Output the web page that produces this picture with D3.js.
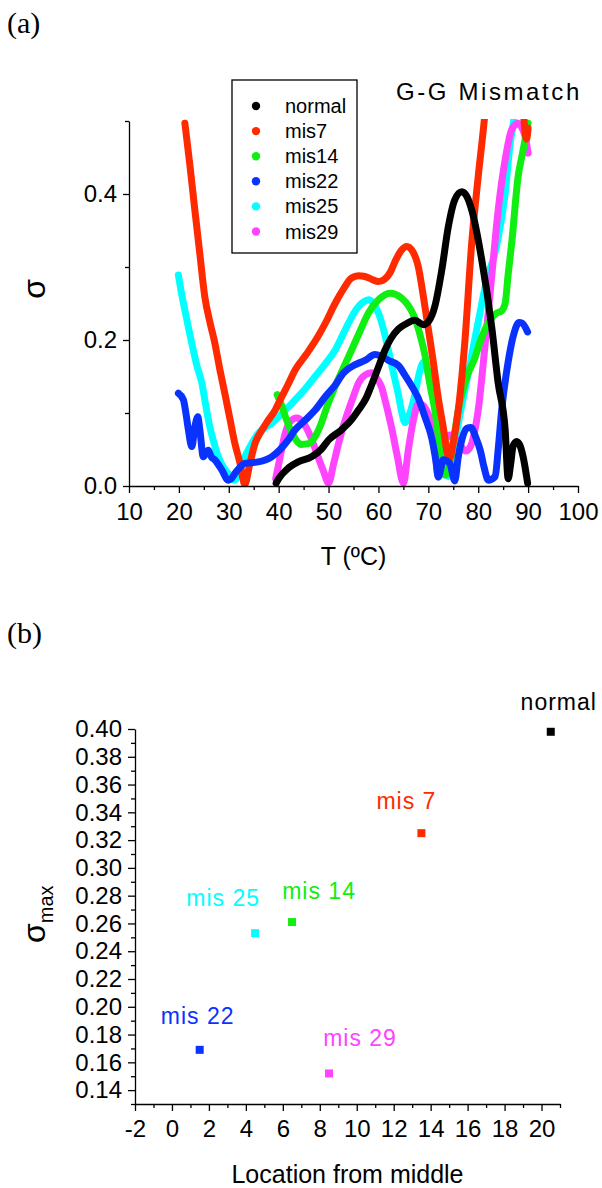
<!DOCTYPE html>
<html lang="en">
<head>
<meta charset="UTF-8">
<title>G-G Mismatch</title>
<script src="https://d3js.org/d3.v7.min.js"></script>
<style>
  body { margin: 0; background: #fff; }
  svg { display: block; font-family: "Liberation Sans", Arial, sans-serif; }
</style>
</head>
<body>
<div id="chart"></div>
<script>
// ---- panel (a): sigma vs temperature, pairs of [T, sigma]
const normal = [[39.5,0.004],[40,0.01],[42,0.025],[43.9,0.033],[46.6,0.04],[48.5,0.05],[50,0.063],[52.6,0.077],
  [54.5,0.09],[56,0.104],[57.5,0.12],[58.6,0.138],[60,0.163],[61.3,0.186],[62.5,0.202],[64,0.215],[65.5,0.222],
  [67.3,0.227],[69,0.221],[70,0.225],[71.3,0.246],[72.7,0.296],[74,0.355],[75.3,0.392],[76.7,0.403],[77.7,0.397],
  [78.7,0.378],[80.7,0.31],[82.7,0.218],[84,0.141],[85.4,0.077],[86,0.01],[86.5,0.03],[87,0.055],[87.7,0.061],
  [88.4,0.055],[89,0.04],[89.9,0.004]];
const mis7 = [[21.2,0.497],[22.2,0.44],[23.2,0.378],[24.2,0.318],[25.2,0.259],[26.2,0.225],[27.2,0.196],[28.2,0.16],
  [29.2,0.127],[30.2,0.093],[31.2,0.059],[32.3,0.03],[33.2,0.002],[34.2,0.03],[35.3,0.059],[36.5,0.075],[37.9,0.09],
  [39.3,0.104],[40.3,0.118],[41.8,0.138],[43.3,0.159],[45.5,0.18],[47.9,0.205],[49.5,0.225],[51.3,0.25],[53,0.27],
  [54.6,0.285],[56,0.288],[57.3,0.287],[58.7,0.283],[60,0.28],[61.2,0.283],[62.3,0.292],[63.5,0.31],[64.5,0.322],
  [65.7,0.328],[66.8,0.322],[68,0.3],[69,0.26],[70,0.215],[71,0.17],[72,0.12],[73,0.08],[73.8,0.045],[74.3,0.038],
  [75,0.06],[76,0.104],[77.3,0.196],[78.7,0.333],[80,0.424],[81.2,0.5],[82.5,0.6],[86,0.7],[88.8,0.55],[89.3,0.49],
  [89.7,0.475],[90,0.49]];
const mis14 = [[39.7,0.125],[40.5,0.112],[41.5,0.092],[42.5,0.075],[43.5,0.063],[44.5,0.057],[46,0.058],[47.5,0.07],
  [48.5,0.085],[49.5,0.105],[51.3,0.136],[53,0.162],[54.6,0.186],[56.3,0.212],[58,0.237],[60,0.255],[62.3,0.264],
  [64.7,0.257],[66,0.247],[67.3,0.23],[68.3,0.208],[69.3,0.18],[70.3,0.14],[71.3,0.104],[72.3,0.055],[73.3,0.015],
  [74,0.02],[75,0.06],[76,0.104],[77.5,0.145],[79.4,0.177],[80.5,0.2],[82,0.223],[83.7,0.237],[84.7,0.24],
  [85.4,0.25],[86,0.29],[86.7,0.332],[88,0.424],[89,0.46],[90,0.497]];
const mis22 = [[19.9,0.127],[20.9,0.118],[21.4,0.1],[21.9,0.077],[22.6,0.054],[23.2,0.081],[23.8,0.095],[24.2,0.077],
  [24.9,0.04],[25.9,0.049],[26.5,0.04],[27.2,0.036],[28.6,0.022],[29.9,0.008],[30.5,0.01],[31.2,0.017],[32.2,0.025],
  [33.2,0.031],[35.9,0.033],[38.6,0.04],[40.3,0.05],[41.8,0.062],[43.3,0.077],[45.3,0.09],[47.3,0.104],[49.3,0.122],
  [51.3,0.138],[53,0.155],[55,0.165],[57.3,0.172],[59.3,0.18],[60.5,0.178],[62,0.172],[64,0.165],[65.3,0.152],
  [67,0.133],[68,0.12],[69.3,0.095],[70.7,0.065],[71.5,0.035],[72,0.012],[73,0.036],[74.3,0.031],[75.3,0.007],
  [76,0.04],[76.7,0.063],[77.7,0.079],[78.5,0.08],[79.6,0.065],[80.4,0.049],[81.2,0.025],[82,0.008],[83.4,0.013],
  [84,0.05],[84.7,0.104],[86,0.17],[87.2,0.21],[88.2,0.224],[88.8,0.223],[89.9,0.211]];
const mis25 = [[19.9,0.289],[20.5,0.265],[21.2,0.241],[22.6,0.195],[23.6,0.165],[24.6,0.141],[25.4,0.11],[26.2,0.081],
  [27,0.06],[27.9,0.04],[29,0.025],[29.9,0.017],[31.2,0.008],[32.2,0.025],[33.2,0.04],[34.5,0.057],[35.9,0.072],
  [37.3,0.08],[38.6,0.086],[40.3,0.097],[41.8,0.107],[43.3,0.118],[45.3,0.133],[47.3,0.15],[49.3,0.167],[51.3,0.186],
  [52.7,0.205],[54,0.223],[55,0.236],[56,0.246],[57,0.252],[58,0.255],[59,0.25],[60,0.237],[61,0.215],[62,0.186],
  [63,0.155],[64,0.125],[64.7,0.1],[65.3,0.087],[66.3,0.1],[67.3,0.125],[68.2,0.155],[69.1,0.17],[69.8,0.16],
  [70.7,0.13],[72,0.081],[73.3,0.022],[74,0.013],[75,0.045],[76,0.085],[78,0.155],[80,0.225],[82,0.29],[83,0.31],
  [84,0.34],[85.4,0.401],[86.4,0.469],[87,0.495],[87.5,0.52]];
const mis29 = [[39.4,0.01],[40.3,0.04],[41.3,0.072],[42.3,0.088],[43.6,0.093],[44.8,0.088],[45.9,0.075],[47,0.057],
  [47.9,0.04],[49,0.02],[50,0.004],[51,0.03],[52,0.058],[53,0.083],[54,0.104],[55,0.123],[56,0.141],[57.3,0.152],
  [58.6,0.155],[59.6,0.148],[60.6,0.136],[61.6,0.11],[62.6,0.081],[63.8,0.04],[65,0.004],[66,0.05],[67,0.09],
  [68,0.113],[69,0.11],[69.6,0.104],[70.7,0.081],[71.4,0.045],[72,0.013],[72.6,0.035],[73.3,0.06],[74.3,0.07],
  [75.5,0.065],[76.5,0.055],[77.5,0.048],[78.5,0.055],[79.3,0.075],[80,0.104],[81.4,0.195],[82.7,0.287],[84,0.378],
  [85.4,0.447],[86.7,0.488],[88,0.497],[88.8,0.49],[89.4,0.479],[90,0.456]];

const seriesNames = ["normal", "mis7", "mis14", "mis22", "mis25", "mis29"];
const seriesData = [normal, mis7, mis14, mis22, mis25, mis29];
const seriesColors = ["#000000", "#ff2a00", "#11ee11", "#0a32ff", "#00ffff", "#ff44ff"];
const drawOrder = [4, 5, 2, 1, 3, 0];

const xTicksA = d3.range(10, 101, 10);
const xMinorA = d3.range(15, 100, 10);
const yTicksA = [0, 0.2, 0.4];
const yMinorA = [0.1, 0.3, 0.5];

// ---- panel (b): sigma max vs location from middle
const pointLabels = ["normal", "mis 7", "mis 14", "mis 22", "mis 25", "mis 29"];
const locFromMiddle = [20.5, 13.5, 6.5, 1.5, 4.5, 8.5];
const sigmaMax = [0.398, 0.325, 0.261, 0.169, 0.253, 0.152];

const xTicksB = d3.range(-2, 21, 2);
const xMinorB = d3.range(-1, 22, 2);
const yTicksB = d3.range(14, 41, 2).map(v => v / 100);
const yMinorB = d3.range(13, 40, 2).map(v => v / 100);

// label placement relative to each point (layout only)
const labelDx = [8, -15, 27, -2, -32, 31];
const labelDy = [-22, -24, -23, -26, -27, -27];

const W = 602, H = 1188;
const svg = d3.select("#chart").append("svg").attr("width", W).attr("height", H);

function styleAxis(g, fs) {
  g.attr("font-family", "Liberation Sans, Arial, sans-serif").attr("font-size", fs);
  g.select(".domain").attr("stroke", "#000").attr("stroke-width", 1.3);
  g.selectAll(".tick line").attr("stroke", "#000").attr("stroke-width", 1.3);
  g.selectAll(".tick text").attr("fill", "#000");
}

function minorTicks(g) {
  g.select(".domain").remove();
  g.selectAll("line").attr("stroke", "#000").attr("stroke-width", 1.3);
}

// ================= panel (a)
const xA = d3.scaleLinear().domain([10, 100]).range([129, 578]);
const yA = d3.scaleLinear().domain([0, 0.5]).range([486, 121]);

svg.append("text").attr("x", 7).attr("y", 33)
  .attr("font-family", "Liberation Serif, Times New Roman, serif").attr("font-size", 30).text("(a)");

svg.append("defs").append("clipPath").attr("id", "clipA").append("rect")
  .attr("x", xA(10)).attr("y", yA(0.5) - 2)
  .attr("width", xA(100) - xA(10)).attr("height", yA(0) - yA(0.5) + 2);

const line = d3.line().x(d => xA(d[0])).y(d => yA(d[1])).curve(d3.curveMonotoneX);
const curves = svg.append("g").attr("clip-path", "url(#clipA)");
drawOrder.forEach(i => {
  curves.append("path").datum(seriesData[i])
    .attr("fill", "none").attr("stroke", seriesColors[i]).attr("stroke-width", 7)
    .attr("stroke-linejoin", "round").attr("stroke-linecap", "round")
    .attr("d", line);
});

svg.append("g").attr("transform", `translate(0,${yA(0)})`)
  .call(d3.axisBottom(xA).tickValues(xTicksA).tickSize(7).tickPadding(10).tickSizeOuter(0).tickFormat(d3.format("d")))
  .call(g => styleAxis(g, 24));
svg.append("g").attr("transform", `translate(0,${yA(0)})`)
  .call(d3.axisBottom(xA).tickValues(xMinorA).tickSize(4).tickFormat(""))
  .call(minorTicks);

svg.append("g").attr("transform", `translate(${xA(10)},0)`)
  .call(d3.axisLeft(yA).tickValues(yTicksA).tickSize(6).tickPadding(6).tickSizeOuter(0).tickFormat(d3.format(".1f")))
  .call(g => styleAxis(g, 24));
svg.append("g").attr("transform", `translate(${xA(10)},0)`)
  .call(d3.axisLeft(yA).tickValues(yMinorA).tickSize(4).tickFormat(""))
  .call(minorTicks);

svg.append("text").attr("x", (xA(10) + xA(100)) / 2).attr("y", 565).attr("text-anchor", "middle")
  .attr("font-size", 25).text("T (ºC)");
svg.append("text").attr("transform", `translate(45,${yA(0.27)}) rotate(-90)`).attr("text-anchor", "middle")
  .attr("font-size", 32).text("σ");

svg.append("text").attr("x", 396).attr("y", 100).attr("font-size", 24).attr("letter-spacing", 2.6)
  .text("G-G Mismatch");

// legend
const legend = svg.append("g");
legend.append("rect").attr("x", 232).attr("y", 80).attr("width", 125).attr("height", 173)
  .attr("fill", "#fff").attr("stroke", "#000").attr("stroke-width", 1.3);
seriesNames.forEach((name, i) => {
  const y = 106 + i * 25.1;
  legend.append("circle").attr("cx", 256).attr("cy", y).attr("r", 4.2).attr("fill", seriesColors[i]);
  legend.append("text").attr("x", 285).attr("y", y + 7).attr("font-size", 20).text(name);
});

// ================= panel (b)
const xB = d3.scaleLinear().domain([-2, 21]).range([135, 560]);
const yB = d3.scaleLinear().domain([0.13, 0.40]).range([1104, 729]);

svg.append("text").attr("x", 7).attr("y", 643)
  .attr("font-family", "Liberation Serif, Times New Roman, serif").attr("font-size", 30).text("(b)");

svg.append("g").attr("transform", `translate(0,${yB(0.13)})`)
  .call(d3.axisBottom(xB).tickValues(xTicksB).tickSize(7).tickPadding(9).tickSizeOuter(0).tickFormat(d => String(d)))
  .call(g => styleAxis(g, 24));
svg.append("g").attr("transform", `translate(0,${yB(0.13)})`)
  .call(d3.axisBottom(xB).tickValues(xMinorB).tickSize(4).tickFormat(""))
  .call(minorTicks);

svg.append("g").attr("transform", `translate(${xB(-2)},0)`)
  .call(d3.axisLeft(yB).tickValues(yTicksB).tickSize(7).tickPadding(6).tickSizeOuter(0).tickFormat(d3.format(".2f")))
  .call(g => styleAxis(g, 24));
svg.append("g").attr("transform", `translate(${xB(-2)},0)`)
  .call(d3.axisLeft(yB).tickValues(yMinorB).tickSize(4).tickFormat(""))
  .call(minorTicks);

svg.selectAll(".pt").data(locFromMiddle).join("rect").attr("class", "pt")
  .attr("x", d => xB(d) - 4).attr("y", (d, i) => yB(sigmaMax[i]) - 4)
  .attr("width", 8).attr("height", 8).attr("fill", (d, i) => seriesColors[i]);

svg.selectAll(".ptlabel").data(pointLabels).join("text").attr("class", "ptlabel")
  .attr("x", (d, i) => xB(locFromMiddle[i]) + labelDx[i])
  .attr("y", (d, i) => yB(sigmaMax[i]) + labelDy[i])
  .attr("text-anchor", "middle").attr("font-size", 23).attr("letter-spacing", 1)
  .attr("fill", (d, i) => seriesColors[i]).text(d => d);

svg.append("text").attr("x", (xB(-2) + xB(21)) / 2).attr("y", 1183).attr("text-anchor", "middle")
  .attr("font-size", 25).text("Location from middle");

const sigTitle = svg.append("text").attr("transform", `translate(45,943) rotate(-90)`)
  .attr("font-size", 32);
sigTitle.append("tspan").text("σ");
sigTitle.append("tspan").attr("dy", 8).attr("font-size", 20).text("max");
</script>
</body>
</html>
